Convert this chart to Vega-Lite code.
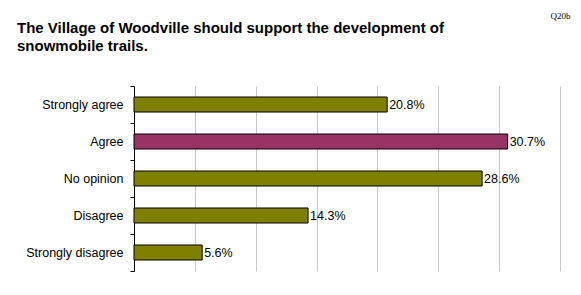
{
  "$schema": "https://vega.github.io/schema/vega-lite/v6.json",
  "autosize": "none",
  "width": 426,
  "height": 185,
  "padding": {"left": 134, "top": 86, "right": 21, "bottom": 24},
  "background": "white",
  "title": {
    "text": ["The Village of Woodville should support the development of", "snowmobile trails."],
    "anchor": "start",
    "frame": "group",
    "dx": -117,
    "dy": 47,
    "font": "Liberation Sans",
    "fontSize": 15,
    "fontWeight": "bold",
    "color": "black",
    "lineHeight": 18,
    "offset": 4
  },
  "data": {
    "values": [
      {"response": "Strongly agree", "pct": 20.8, "label": "20.8%", "group": "other"},
      {"response": "Agree", "pct": 30.7, "label": "30.7%", "group": "top"},
      {"response": "No opinion", "pct": 28.6, "label": "28.6%", "group": "other"},
      {"response": "Disagree", "pct": 14.3, "label": "14.3%", "group": "other"},
      {"response": "Strongly disagree", "pct": 5.6, "label": "5.6%", "group": "other"}
    ]
  },
  "encoding": {
    "y": {
      "field": "response",
      "type": "nominal",
      "sort": null,
      "scale": {"paddingInner": 0, "paddingOuter": 0},
      "axis": {
        "title": null,
        "domainColor": "black",
        "tickColor": "black",
        "tickSize": 4,
        "tickBand": "extent",
        "labelFont": "Liberation Sans",
        "labelFontSize": 12.5,
        "labelColor": "black",
        "labelPadding": 7,
        "grid": false
      }
    },
    "x": {
      "field": "pct",
      "type": "quantitative",
      "scale": {"domain": [0, 35], "nice": false},
      "axis": {
        "orient": "top",
        "values": [0, 5, 10, 15, 20, 25, 30, 35],
        "labels": false,
        "ticks": false,
        "domain": false,
        "grid": true,
        "gridColor": "#c8c8c8",
        "gridWidth": 1,
        "title": "Q20b",
        "titleFont": "Liberation Serif",
        "titleFontSize": 9,
        "titleFontWeight": "normal",
        "titleColor": "black",
        "titleAnchor": "end",
        "titleAlign": "right",
        "titleBaseline": "alphabetic",
        "titleX": 436,
        "titleY": -68
      }
    }
  },
  "layer": [
    {
      "mark": {"type": "bar", "size": 15, "stroke": "black", "strokeWidth": 1},
      "encoding": {
        "color": {
          "field": "group",
          "type": "nominal",
          "scale": {"domain": ["other", "top"], "range": ["#808000", "#993366"]},
          "legend": null
        }
      }
    },
    {
      "mark": {"type": "text", "align": "left", "baseline": "middle", "dx": 2, "font": "Liberation Sans", "fontSize": 12.5, "color": "black"},
      "encoding": {"text": {"field": "label"}}
    }
  ],
  "config": {"view": {"stroke": null}}
}
